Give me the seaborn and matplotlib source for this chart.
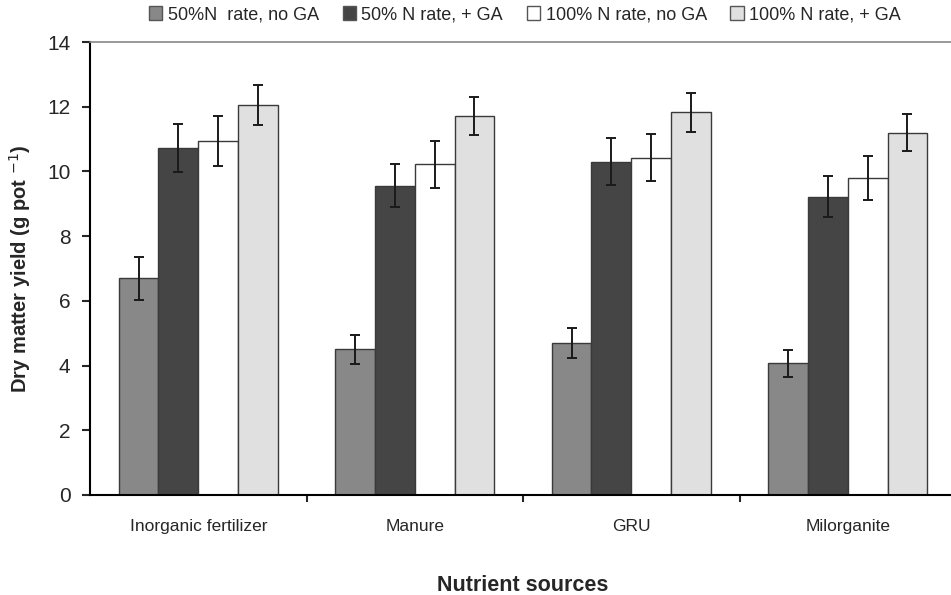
import matplotlib as mpl
mpl.use('Agg')
import matplotlib.pyplot as plt
import pandas as pd
import seaborn as sns

sources = ['Inorganic fertilizer', 'Manure', 'GRU', 'Milorganite']
treatments = ['50%N  rate, no GA', '50% N rate, + GA', '100% N rate, no GA', '100% N rate, + GA']
yield_50_no = [6.7, 4.5, 4.7, 4.07]
yield_50_ga = [10.72, 9.56, 10.3, 9.22]
yield_100_no = [10.93, 10.22, 10.42, 9.8]
yield_100_ga = [12.06, 11.72, 11.83, 11.2]
err_50_no = [0.66, 0.45, 0.47, 0.41]
err_50_ga = [0.75, 0.66, 0.72, 0.64]
err_100_no = [0.77, 0.73, 0.73, 0.68]
err_100_ga = [0.61, 0.59, 0.6, 0.57]
colors = ['#888888', '#454545', '#ffffff', '#e0e0e0']

rows = []
for t, ys, es in zip(treatments,
                     [yield_50_no, yield_50_ga, yield_100_no, yield_100_ga],
                     [err_50_no, err_50_ga, err_100_no, err_100_ga]):
    for s, y, e in zip(sources, ys, es):
        rows.append({'source': s, 'treatment': t, 'yield': y, 'err': e})
df = pd.DataFrame(rows)

sns.set_style('white')
plt.rcParams['font.family'] = ['Liberation Sans', 'DejaVu Sans']

fig = plt.figure(figsize=(9.51, 5.95), dpi=100)
ax = fig.add_axes([90 / 951, 100 / 595, 866 / 951, 453 / 595])

sns.barplot(data=df, x='source', y='yield', hue='treatment', order=sources,
            hue_order=treatments, palette=colors, width=0.735, errorbar=None,
            edgecolor='#3a3a3a', linewidth=1.0, saturation=1, ax=ax)

# error bars at the centre of each drawn bar
for patch_group, t in zip(ax.containers, treatments):
    sub = df[df.treatment == t].set_index('source').loc[sources]
    xs = [p.get_x() + p.get_width() / 2 for p in patch_group]
    ax.errorbar(xs, sub['yield'], yerr=sub['err'], fmt='none', ecolor='#1a1a1a',
                elinewidth=1.4, capsize=3.6, capthick=1.4)

ax.set_ylim(0, 14)
ax.set_xlim(-0.5, 3.5)
ax.set_yticks(range(0, 15, 2))
ax.tick_params(axis='y', which='major', direction='out', length=6, width=1.5,
               labelsize=15, pad=8, left=True)
ax.tick_params(axis='x', which='major', length=0, labelsize=12.5, pad=17)
ax.set_xticks([0.5, 1.5, 2.5], minor=True)
ax.tick_params(axis='x', which='minor', direction='out', length=5, width=1.5, bottom=True)

for side in ['left', 'bottom']:
    ax.spines[side].set_color('black')
    ax.spines[side].set_linewidth(1.5)
ax.spines['top'].set_color('#888888')
ax.spines['top'].set_linewidth(1.2)
ax.spines['right'].set_visible(False)

ax.set_xlabel('Nutrient sources', fontsize=15.5, fontweight='bold', labelpad=30)
ax.set_ylabel('Dry matter yield (g pot $^{-1}$)', fontsize=14.5, fontweight='bold', labelpad=10)

handles, labels = ax.get_legend_handles_labels()
ax.legend_.remove()
for h in handles:
    h.set_edgecolor('#555555')
fig.legend(handles, labels, loc='center', bbox_to_anchor=(0.552, 0.975), ncol=4,
           frameon=False, fontsize=13, handlelength=0.75, handleheight=0.75,
           handletextpad=0.3, columnspacing=1.3, borderaxespad=0)

fig.savefig('out.png', dpi=100)
